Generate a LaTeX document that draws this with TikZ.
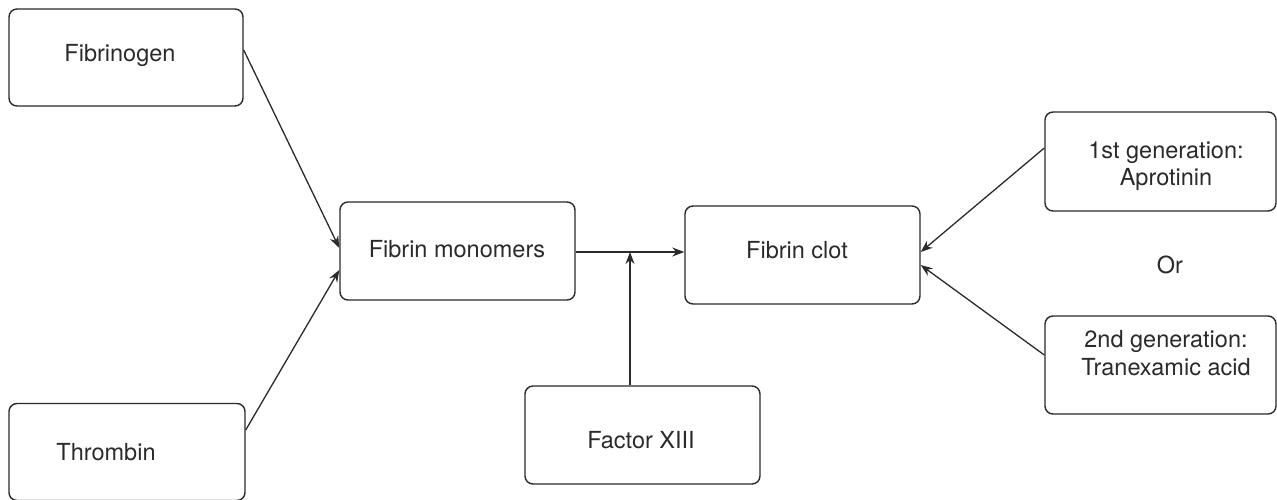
\documentclass[tikz,border=0pt]{standalone}
\usepackage{fontspec}
\setmainfont{TeX Gyre Heros}
\usetikzlibrary{arrows.meta}
\definecolor{ink}{HTML}{2A2A2A}
\begin{document}
\begin{tikzpicture}[x=1pt,y=-1pt,
  box/.style={draw=ink, line width=1.4pt, rounded corners=8pt, minimum width=#1, minimum height=97pt, inner sep=0pt},
  box/.default=235pt,
  txt/.style={text=ink, font=\fontsize{23.5}{27.5}\selectfont, align=center, inner sep=0pt},
  conn/.style={draw=ink, line width=1.3pt, -{Stealth[length=12pt,width=9pt]}}]
\useasboundingbox (0,0) rectangle (1277,499);
% boxes
\node[box=234pt] (fgn) at (126,57.5) {};
\node[box=236pt] (thr) at (127,452) {};
\node[box=235pt, minimum height=98pt] (mon) at (457.5,251) {};
\node[box=235pt, minimum height=98pt] (clot) at (802.5,255) {};
\node[box=235pt, minimum height=98pt] (f13) at (642.5,435) {};
\node[box=231pt, minimum height=99pt] (g1) at (1160.5,161.5) {};
\node[box=231pt, minimum height=98pt] (g2) at (1160.5,365) {};
% texts
\node[txt] (fgn-t) at (120,55) {Fibrinogen};
\node[txt] (thr-t) at (106,452) {Thrombin};
\node[txt] (mon-t) at (457,249) {Fibrin monomers};
\node[txt] (clot-t) at (797,250) {Fibrin clot};
\node[txt] (f13-t) at (641,440) {Factor XIII};
\node[txt] (g1-t) at (1166,166) {1st generation:\\Aprotinin};
\node[txt] (g2-t) at (1166,353) {2nd generation:\\Tranexamic acid};
\node[txt] (or) at (1170,265) {Or};
% junction
\coordinate (j) at (630,252);
% connectors
\draw[conn] (fgn.east |- 0,50) -- (mon.west |- 0,248);
\draw[conn] (thr.east |- 0,430) -- (mon.west |- 0,270);
\draw[conn] (mon.east |- j) -- (clot.west |- j);
\draw[conn] (f13.north -| j) -- (j);
\draw[conn] (g1.west |- 0,148) -- (clot.east |- 0,252);
\draw[conn] (g2.west |- 0,355) -- (clot.east |- 0,265);
\end{tikzpicture}
\end{document}
